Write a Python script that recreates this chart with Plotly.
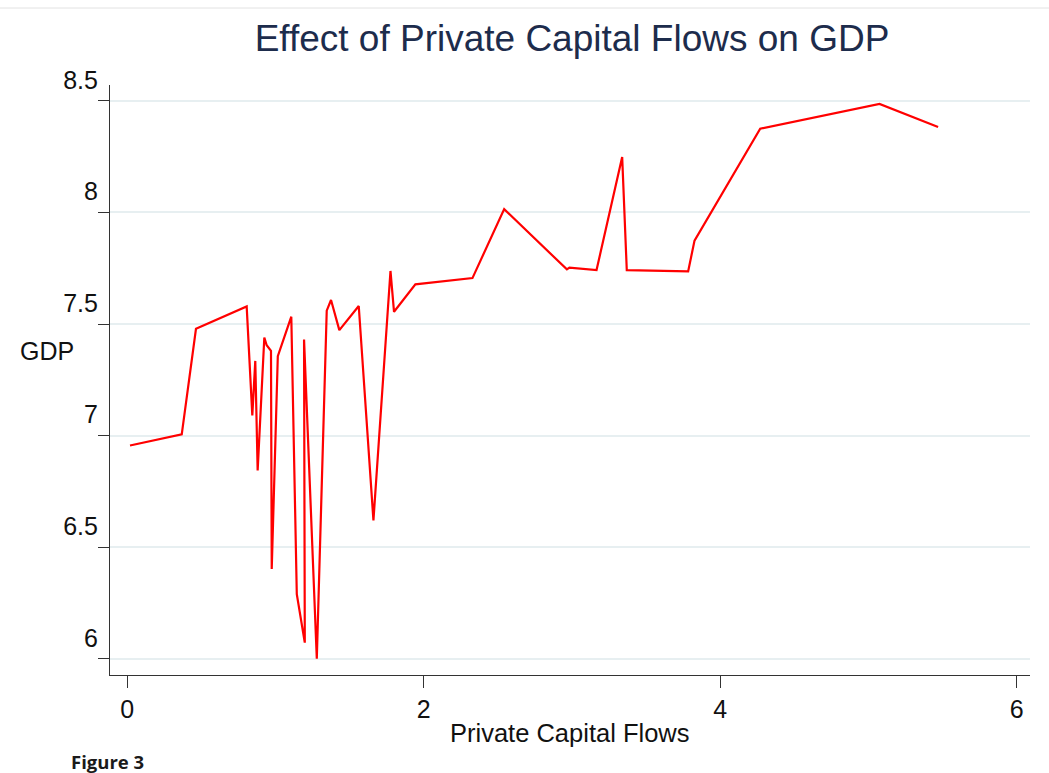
import plotly.graph_objects as go

# Data
capital_flows = [0.019, 0.368, 0.464, 0.806, 0.844, 0.864, 0.880, 0.925, 0.941, 0.970,
                 0.975, 1.016, 1.107, 1.144, 1.198, 1.193, 1.279, 1.346, 1.375, 1.402,
                 1.431, 1.562, 1.661, 1.776, 1.800, 1.944, 2.329, 2.543, 2.966, 2.983,
                 3.166, 3.339, 3.370, 3.784, 3.827, 4.270, 5.075, 5.470]
gdp = [6.956, 7.006, 7.479, 7.579, 7.091, 7.335, 6.844, 7.440, 7.405, 7.380,
       6.403, 7.356, 7.533, 6.290, 6.073, 7.431, 6.001, 7.560, 7.608, 7.540,
       7.473, 7.581, 6.620, 7.738, 7.555, 7.678, 7.706, 8.015, 7.745, 7.753,
       7.742, 8.248, 7.742, 7.736, 7.874, 8.375, 8.486, 8.383]

x_ticks = [0, 2, 4, 6]
y_ticks = [6, 6.5, 7, 7.5, 8, 8.5]
y_tick_labels = ["6", "6.5", "7", "7.5", "8", "8.5"]

W, H = 1049, 773
ML, MR, MT, MB = 110, 19, 85, 98
PW, PH = W - ML - MR, H - MT - MB

def px(x):
    return (x - ML) / PW

def py(y):
    return (H - MB - y) / PH

fig = go.Figure()
fig.add_trace(go.Scatter(
    x=capital_flows, y=gdp, mode="lines",
    line=dict(color="#ff0000", width=2.2),
    showlegend=False, hoverinfo="x+y"))

axis_font = dict(family="Liberation Sans, Arial, sans-serif", size=25, color="#111111")

fig.update_layout(
    width=W, height=H,
    margin=dict(l=ML, r=MR, t=MT, b=MB),
    paper_bgcolor="white", plot_bgcolor="white",
    title=dict(text="Effect of Private Capital Flows on GDP",
               x=572 / W, xanchor="center", y=1 - 38 / H, yanchor="middle",
               font=dict(family="Liberation Sans, Arial, sans-serif", size=37, color="#1d2c4c")),
    xaxis=dict(range=[-0.116, 6.09], tickvals=x_ticks, ticktext=[str(v) for v in x_ticks],
               showgrid=False, zeroline=False, showline=True, linecolor="#333333", linewidth=1.2,
               ticks="outside", ticklen=12, tickcolor="#333333", tickwidth=1.2,
               tickfont=axis_font),
    yaxis=dict(range=[5.928, 8.571], tickvals=y_ticks, ticktext=y_tick_labels,
               showgrid=True, gridcolor="#e7eff1", gridwidth=2, zeroline=False,
               showline=True, linecolor="#333333", linewidth=1.2,
               ticks="outside", ticklen=11, tickcolor="#333333", tickwidth=1.2,
               tickfont=axis_font, ticklabelshift=-21, ticklabelstandoff=-5),
)

fig.add_annotation(text="GDP", xref="paper", yref="paper", x=px(47), y=py(351),
                   xanchor="center", yanchor="middle", showarrow=False, font=axis_font)
fig.add_annotation(text="Private Capital Flows", xref="paper", yref="paper", x=px(570), y=py(733),
                   xanchor="center", yanchor="middle", showarrow=False,
                   font=dict(family="Liberation Sans, Arial, sans-serif", size=25.5, color="#111111"))
fig.add_annotation(text="<b>Figure 3</b>", xref="paper", yref="paper", x=px(107), y=py(761),
                   xanchor="center", yanchor="middle", showarrow=False,
                   font=dict(family="Open Sans, sans-serif", size=18.5, color="#1a1a1a"))

fig.add_shape(type="line", xref="paper", yref="paper", x0=px(0), x1=px(W), y0=py(8), y1=py(8),
              line=dict(color="#e2e2e2", width=1))

fig.write_html("out.html")
